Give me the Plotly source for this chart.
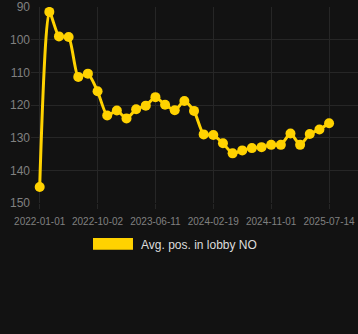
import plotly.graph_objects as go

dates = [
    "2022-01-01", "2022-02-15", "2022-04-01", "2022-05-16", "2022-06-30", "2022-08-16",
    "2022-10-02", "2022-11-13", "2022-12-25", "2023-02-05", "2023-03-19", "2023-04-30",
    "2023-06-11", "2023-07-24", "2023-09-05", "2023-10-17", "2023-11-29", "2024-01-09",
    "2024-02-19", "2024-04-02", "2024-05-15", "2024-06-27", "2024-08-08", "2024-09-20",
    "2024-11-01", "2024-12-14", "2025-01-26", "2025-03-10", "2025-04-21", "2025-06-02",
    "2025-07-14",
]
avg_pos = [
    145.1, 91.5, 99.0, 99.2, 111.4, 110.4, 115.8, 123.2, 121.7, 124.1, 121.3, 120.2,
    117.6, 119.9, 121.6, 118.8, 121.8, 129.0, 129.2, 131.7, 134.8, 133.9, 133.2, 132.9,
    132.2, 132.2, 128.7, 132.2, 128.9, 127.5, 125.6,
]
tick_labels = ["2022-01-01", "2022-10-02", "2023-06-11", "2024-02-19", "2024-11-01", "2025-07-14"]
y_ticks = [90, 100, 110, 120, 130, 140, 150]
series_name = "Avg. pos. in lobby NO"

color = "#FFD200"
bg = "#121212"
grid = "#262626"
font = "Liberation Sans, Arial, sans-serif"

fig = go.Figure()
fig.add_trace(go.Scatter(
    x=dates, y=avg_pos, mode="lines+markers", name=series_name,
    line=dict(color=color, width=3, shape="spline", smoothing=0.6),
    marker=dict(color=color, size=10),
    showlegend=False,
))

fig.update_layout(
    width=358, height=334,
    margin=dict(l=31, r=0, t=7, b=131),
    paper_bgcolor=bg, plot_bgcolor=bg,
    font=dict(family=font, size=11, color="#808080"),
    xaxis=dict(
        type="category", range=[-0.9, 33],
        tickvals=tick_labels, ticktext=tick_labels,
        showgrid=True, gridcolor=grid, gridwidth=1,
        ticks="outside", ticklen=5, tickcolor=grid,
        zeroline=False, showline=False, tickangle=0,
        tickfont=dict(size=10, color="#808080"),
        ticklabelstandoff=4,
    ),
    yaxis=dict(
        range=[150, 90], tickvals=y_ticks,
        showgrid=True, gridcolor=grid, gridwidth=1,
        zeroline=False, showline=False,
        tickfont=dict(size=12, color="#808080"),
        ticklabelstandoff=0,
    ),
    shapes=[dict(
        type="rect", xref="paper", yref="paper",
        x0=0.1896, x1=0.3119, y0=-0.1786, y1=-0.2383,
        fillcolor=color, line=dict(width=0),
    )],
    annotations=[dict(
        xref="paper", yref="paper", x=0.3303, y=-0.214,
        xanchor="left", yanchor="middle", showarrow=False,
        text=series_name, font=dict(family=font, size=12, color="#dddddd"),
    )],
)

fig.write_html("out.html")
